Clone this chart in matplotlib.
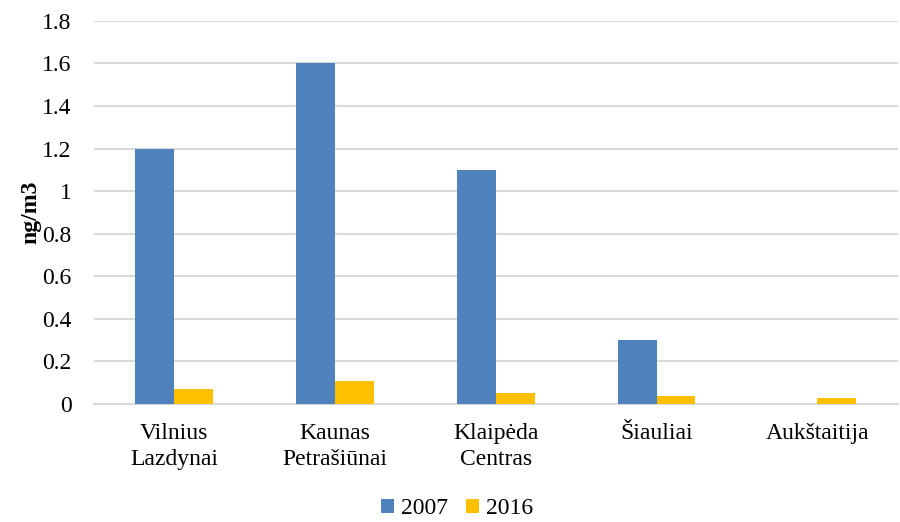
import matplotlib.pyplot as plt
import numpy as np

plt.rcParams['font.family'] = ['Liberation Serif', 'DejaVu Serif']

categories = ['Vilnius\nLazdynai', 'Kaunas\nPetrašiūnai', 'Klaipėda\nCentras', 'Šiauliai', 'Aukštaitija']
values_2007 = [1.2, 1.6, 1.1, 0.3, 0.0]
values_2016 = [0.07, 0.11, 0.05, 0.04, 0.03]
yticks = [0, 0.2, 0.4, 0.6, 0.8, 1, 1.2, 1.4, 1.6, 1.8]
ytick_labels = ['0', '0.2', '0.4', '0.6', '0.8', '1', '1.2', '1.4', '1.6', '1.8']

fig = plt.figure(figsize=(9, 5.22), dpi=100)
ax = fig.add_axes([0.1044, 0.226, 0.893, 0.734])

x = np.arange(len(categories))
w = 0.242
ax.bar(x - w / 2, values_2007, w, color='#4F81BD', label='2007', zorder=3)
ax.bar(x + w / 2, values_2016, w, color='#FFC000', label='2016', zorder=3)

ax.set_xlim(-0.5, len(categories) - 0.5)
ax.set_ylim(0, 1.8)
ax.set_yticks(yticks)
ax.set_yticklabels(ytick_labels, fontsize=17)
ax.set_xticks(x)
ax.set_xticklabels(categories, fontsize=17, linespacing=1.3)
ax.tick_params(axis='y', length=0, pad=16)
ax.tick_params(axis='x', length=0, pad=14)
ax.grid(axis='y', color='#D9D9D9', linewidth=1.5, zorder=0)
for s in ['top', 'right', 'left']:
    ax.spines[s].set_visible(False)
ax.spines['bottom'].set_color('#D9D9D9')
ax.spines['bottom'].set_linewidth(1.5)

ax.set_ylabel('ng/m3', fontsize=17, fontweight='bold')
ax.yaxis.set_label_coords(-0.066, 0.5)

fig.legend(loc='lower center', ncol=2, frameon=False, fontsize=17,
           bbox_to_anchor=(0.508, -0.035), handlelength=0.55, handleheight=0.55,
           handletextpad=0.3, columnspacing=0.75)

fig.savefig('out.png', dpi=100)
